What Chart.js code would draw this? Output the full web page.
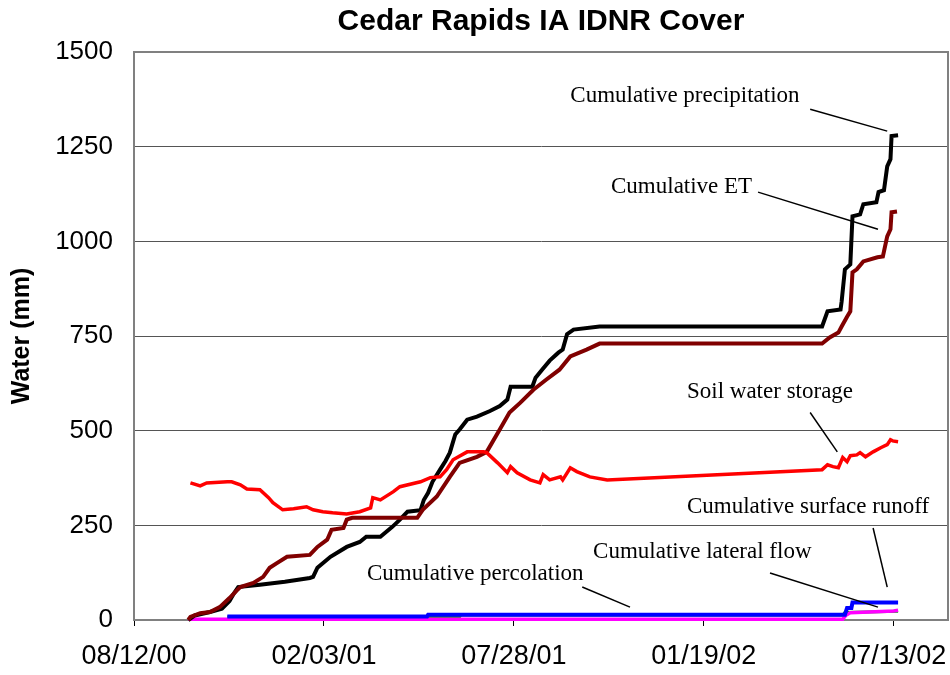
<!DOCTYPE html>
<html>
<head>
<meta charset="utf-8">
<title>Cedar Rapids IA IDNR Cover</title>
<script src="https://cdn.jsdelivr.net/npm/chart.js@4.4.1/dist/chart.umd.min.js"></script>
<style>
    html, body { margin: 0; padding: 0; background: #fff; }
    #wrap { width: 950px; height: 675px; }
</style>
</head>
<body>
<div id="wrap"><canvas id="waterChart" width="950" height="675"></canvas></div>
<script>
// x values are days counted from 08/12/00, y values are mm of water
const startDate = Date.UTC(2000, 7, 12);
const xMax = 750;
const xTickDays = [0, 175, 350, 525, 700];
const yMax = 1500;
const yTickStep = 250;

const precipDays = [50, 56, 70, 81, 88, 92, 96, 116, 139, 162, 165, 169, 181, 196, 208, 214, 227, 238, 245, 252,
    264, 267, 271, 275, 282, 287, 291, 296, 300, 307, 316, 328, 337, 344, 347, 367, 370, 376, 383, 391,
    395, 399, 405, 429, 634, 639, 651, 652, 655, 660, 662, 669, 672, 684, 686, 691, 694, 697, 698, 704];
const precipMm = [0, 12, 21, 30, 50, 70, 87, 93, 101, 111, 114, 138, 167, 193, 206, 220, 220, 246, 265, 286,
    290, 317, 336, 365, 397, 420, 442, 490, 503, 529, 537, 552, 565, 582, 616, 616, 640, 661, 685, 706,
    714, 755, 767, 775, 775, 815, 820, 841, 926, 939, 1066, 1071, 1098, 1103, 1130, 1135, 1198, 1217, 1278, 1280];

const etDays = [50, 52, 61, 70, 79, 88, 95, 98, 110, 119, 125, 132, 141, 162, 169, 178, 182, 193, 196, 201,
    261, 266, 279, 291, 300, 316, 325, 337, 346, 356, 368, 380, 392, 402, 417, 429, 634, 641, 649, 652,
    657, 660, 662, 666, 672, 685, 690, 694, 697, 698, 703];
const etMm = [0, 8, 18, 21, 34, 58, 79, 87, 98, 114, 138, 151, 167, 172, 193, 212, 238, 243, 265, 270,
    270, 291, 326, 378, 415, 431, 444, 503, 548, 574, 608, 635, 661, 696, 714, 730, 730, 746, 759, 775,
    801, 815, 918, 926, 947, 958, 960, 1013, 1032, 1077, 1079];

const soilDays = [52, 61, 67, 86, 90, 98, 104, 116, 124, 128, 137, 147, 159, 165, 174, 183, 196, 208, 218, 220,
    227, 239, 245, 264, 273, 282, 288, 294, 307, 322, 325, 335, 344, 347, 353, 365, 374, 377, 383, 393,
    395, 402, 408, 420, 436, 634, 639, 644, 649, 653, 657, 660, 666, 669, 674, 681, 688, 694, 697, 699, 704];
const soilMm = [362, 354, 362, 365, 365, 357, 346, 344, 323, 310, 291, 294, 299, 291, 286, 283, 280, 286, 296, 323,
    317, 339, 352, 365, 376, 378, 397, 423, 444, 444, 442, 415, 389, 405, 389, 370, 362, 384, 370, 378,
    370, 402, 392, 378, 370, 397, 410, 405, 402, 429, 418, 434, 436, 442, 431, 444, 455, 463, 476, 473, 471];

const runoffDays = [86, 270, 271, 655, 657, 661, 662, 704];
const runoffMm = [9, 9, 14, 14, 32, 32, 46, 46];

const lateralDays = [50, 653, 656, 660, 700, 704];
const lateralMm = [2, 2, 13, 19, 24, 26];

const percDays = [86, 300, 301, 653, 655, 704];
const percMm = [8, 8, 13, 13, 20, 23];

// callout labels: text baseline start and leader line ends, in chart units
const callouts = [
    { text: 'Cumulative precipitation', at: [402, 1368], from: [623, 1349], to: [694, 1291] },
    { text: 'Cumulative ET', at: [439.5, 1127], from: [575, 1130], to: [685.5, 1032] },
    { text: 'Soil water storage', at: [509.5, 587], from: [623, 548], to: [648, 444] },
    { text: 'Cumulative surface runoff', at: [509.5, 283], from: [681, 243], to: [694, 87] },
    { text: 'Cumulative lateral flow', at: [423, 164], from: [586, 124], to: [685.5, 34] },
    { text: 'Cumulative percolation', at: [214.7, 106], from: [413, 87], to: [457, 34] }
];

const sansFont = "'Liberation Sans', Arial, sans-serif";
const serifFont = "'Liberation Serif', 'Times New Roman', serif";

function toPoints(days, vals) {
    return days.map((d, i) => ({ x: d, y: vals[i] }));
}

function formatDay(v) {
    const d = new Date(startDate + v * 86400000);
    const mm = String(d.getUTCMonth() + 1).padStart(2, '0');
    const dd = String(d.getUTCDate()).padStart(2, '0');
    const yy = String(d.getUTCFullYear() % 100).padStart(2, '0');
    return mm + '/' + dd + '/' + yy;
}

function series(label, days, vals, color, width) {
    return {
        label: label,
        data: toPoints(days, vals),
        borderColor: color,
        backgroundColor: color,
        borderWidth: width,
        pointRadius: 0,
        tension: 0,
        fill: false,
        clip: false
    };
}

// frame, title and callouts
const chartDecor = {
    id: 'chartDecor',
    beforeDatasetsDraw(chart) {
        const { ctx, chartArea: a } = chart;
        ctx.save();
        ctx.strokeStyle = '#808080';
        ctx.lineWidth = 2;
        ctx.beginPath();
        ctx.moveTo(a.left, a.top);
        ctx.lineTo(a.right, a.top);
        ctx.lineTo(a.right, a.bottom);
        ctx.stroke();
        ctx.restore();
    },
    afterDatasetsDraw(chart) {
        const { ctx } = chart;
        const xs = chart.scales.x;
        const ys = chart.scales.y;
        ctx.save();
        ctx.fillStyle = '#000';
        ctx.strokeStyle = '#000';
        ctx.lineWidth = 1.5;
        ctx.font = '23px ' + serifFont;
        ctx.textAlign = 'left';
        ctx.textBaseline = 'alphabetic';
        callouts.forEach(c => {
            ctx.fillText(c.text, xs.getPixelForValue(c.at[0]), ys.getPixelForValue(c.at[1]));
            ctx.beginPath();
            ctx.moveTo(xs.getPixelForValue(c.from[0]), ys.getPixelForValue(c.from[1]));
            ctx.lineTo(xs.getPixelForValue(c.to[0]), ys.getPixelForValue(c.to[1]));
            ctx.stroke();
        });
        ctx.restore();
    },
    afterDraw(chart) {
        const { ctx, chartArea: a } = chart;
        ctx.save();
        ctx.fillStyle = '#000';
        ctx.font = 'bold 30px ' + sansFont;
        ctx.textAlign = 'center';
        ctx.textBaseline = 'middle';
        ctx.fillText('Cedar Rapids IA IDNR Cover', (a.left + a.right) / 2, 22);
        ctx.restore();
    }
};

const ctx = document.getElementById('waterChart').getContext('2d');
new Chart(ctx, {
    type: 'line',
    data: {
        datasets: [
            series('Soil water storage', soilDays, soilMm, '#ff0000', 3.5),
            series('Cumulative ET', etDays, etMm, '#800000', 4),
            series('Cumulative precipitation', precipDays, precipMm, '#000000', 4),
            series('Cumulative surface runoff', runoffDays, runoffMm, '#0000ff', 4),
            series('Cumulative lateral flow', lateralDays, lateralMm, '#ff00ff', 3.5),
            series('Cumulative percolation', percDays, percMm, '#00b000', 3)
        ]
    },
    options: {
        responsive: false,
        animation: false,
        layout: { padding: { top: 52, right: 2, bottom: 0, left: 0 } },
        plugins: {
            legend: { display: false },
            title: { display: false },
            tooltip: { enabled: false }
        },
        scales: {
            x: {
                type: 'linear',
                min: 0,
                max: xMax,
                ticks: {
                    color: '#000',
                    font: { family: sansFont, size: 27 },
                    padding: 14,
                    maxRotation: 0,
                    autoSkip: false,
                    callback: (v) => formatDay(v)
                },
                afterBuildTicks: (s) => {
                    s.ticks = xTickDays.map(v => ({ value: v }));
                },
                afterFit: (s) => {
                    s.height = 55;
                    s.paddingLeft = 0;
                    s.paddingRight = 0;
                },
                grid: {
                    drawOnChartArea: false,
                    drawTicks: true,
                    tickLength: 6,
                    color: '#000'
                },
                border: { color: '#808080', width: 2 }
            },
            y: {
                min: 0,
                max: yMax,
                ticks: {
                    stepSize: yTickStep,
                    color: '#000',
                    font: { family: sansFont, size: 26 },
                    padding: 21,
                    callback: (v) => String(v)
                },
                afterFit: (s) => {
                    s.width = 134;
                    s.paddingTop = 0;
                    s.paddingBottom = 0;
                },
                grid: {
                    drawTicks: false,
                    color: '#555',
                    lineWidth: 1
                },
                border: { color: '#808080', width: 2 },
                title: {
                    display: true,
                    text: 'Water (mm)',
                    color: '#000',
                    font: { family: sansFont, size: 25, weight: 'bold' },
                    padding: { top: 7, bottom: 0 }
                }
            }
        }
    },
    plugins: [chartDecor]
});
</script>
</body>
</html>
